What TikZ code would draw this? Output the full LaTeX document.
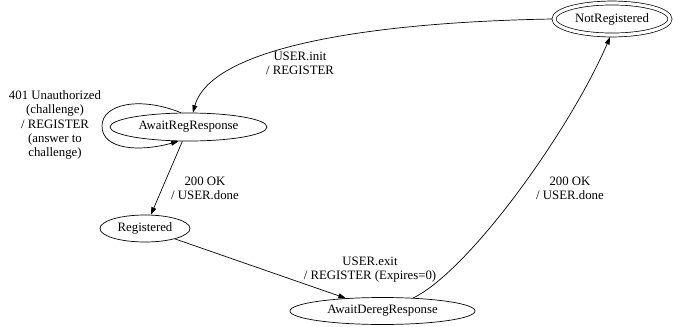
\documentclass[tikz,border=0pt]{standalone}
\usepackage{fontspec}
\setmainfont{Liberation Serif}
\usetikzlibrary{shapes.geometric,arrows.meta}

\tikzset{
  state/.style={ellipse, draw, line width=0.7pt, inner sep=0pt,
    font=\fontsize{12.8}{14}\selectfont},
  finalstate/.style={state, double, double distance=3.2pt, outer sep=2pt},
  trans/.style={draw, line width=0.7pt, -{Triangle[length=7.5pt,width=5pt]}},
  lbl/.style={align=center, inner sep=0pt,
    font=\fontsize{12.8}{14.2}\selectfont}
}

\begin{document}
\begin{tikzpicture}[x=1pt,y=-1pt]
  \useasboundingbox (0,0) rectangle (673,327);

  % states
  \node[finalstate, minimum width=116pt, minimum height=32pt] (nr) at (612,19) {NotRegistered};
  \node[state, minimum width=157pt, minimum height=28pt] (arr) at (188.5,127) {AwaitRegResponse};
  \node[state, minimum width=90pt, minimum height=27pt] (reg) at (145,228.5) {Registered};
  \node[state, minimum width=185pt, minimum height=27pt] (dereg) at (382.5,311) {AwaitDeregResponse};

  % transitions
  \draw[trans] (nr.west) .. controls (380,22) and (212,45) .. (arr.73);
  \node[lbl] (l1) at (300,63) {USER.init\\/ REGISTER};

  \draw[trans] (arr.118) .. controls (140,96) and (102,104) .. (102,126)
               .. controls (102,150) and (140,152) .. (arr.235);
  \node[lbl] (l2) at (55,125) {401 Unauthorized\\(challenge)\\/ REGISTER\\(answer to\\challenge)};

  \draw[trans] (arr) -- (reg);
  \node[lbl] (l3) at (205,188) {200 OK\\/ USER.done};

  \draw[trans] (reg) -- (dereg);
  \node[lbl] (l4) at (370,270) {USER.exit\\/ REGISTER (Expires=0)};

  \draw[trans] (dereg.23) .. controls (470,270) and (570,130) .. (nr.264);
  \node[lbl] (l5) at (570,188) {200 OK\\/ USER.done};
\end{tikzpicture}
\end{document}
